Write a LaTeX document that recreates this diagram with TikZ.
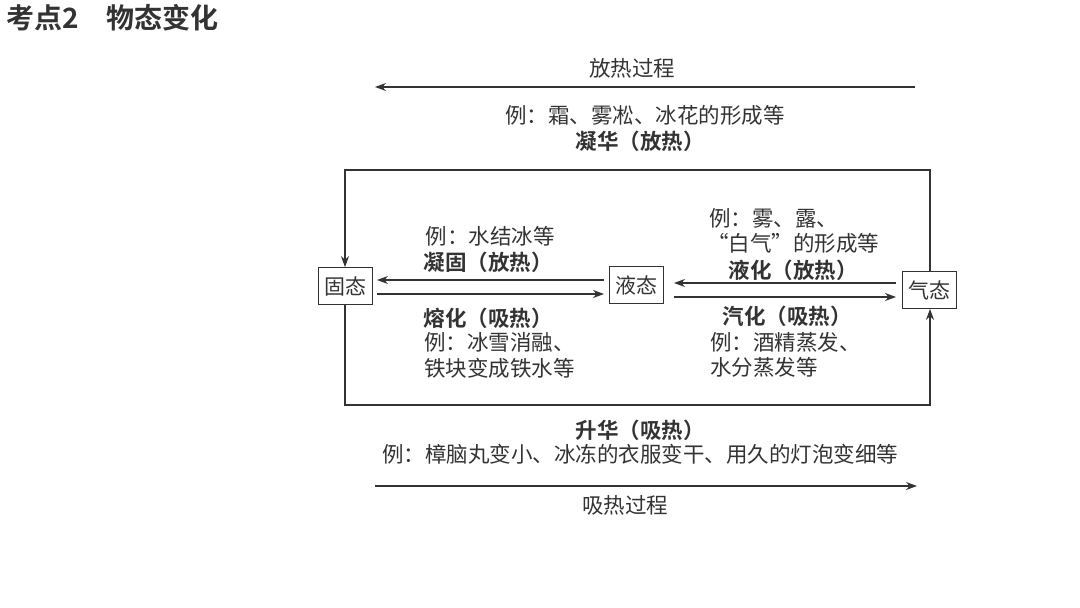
\documentclass[tikz,border=0pt]{standalone}
\usepackage{fontspec}
\newfontfamily\cjk{Noto Sans CJK SC}
\newfontfamily\cjkb{Noto Sans CJK SC Bold}
\usetikzlibrary{arrows.meta}
\definecolor{ink}{HTML}{333333}
\begin{document}
\begin{tikzpicture}[x=1pt,y=-1pt,
  txt/.style={font=\cjk\fontsize{21.5}{23}\selectfont,text=ink,inner sep=0pt},
  btxt/.style={font=\cjkb\fontsize{21.5}{23}\selectfont,text=ink,inner sep=0pt},
  state/.style={draw=ink,line width=0.8pt,font=\cjk\fontsize{21}{23}\selectfont,text=ink,minimum width=54pt,minimum height=37pt,inner sep=1pt},
  ar/.style={draw=ink,line width=1.1pt,-{Stealth[length=11pt,width=8pt]}},
  ln/.style={draw=ink,line width=1pt}]
\useasboundingbox (0,0) rectangle (1080,608);
\node[font=\cjkb\fontsize{28}{30}\selectfont,text=ink,anchor=west,inner sep=0pt] (title) at (6,18) {考点2\quad 物态变化};
% states
\node[state] (s) at (345,286) {固态};
\node[state] (l) at (636,285) {液态};
\node[state] (g) at (929,290) {气态};
% top process arrow
\coordinate (t1) at (915,87); \coordinate (t2) at (375,87);
\draw[ar] (t1) -- (t2);
\node[txt] (tl) at (632,68) {放热过程};
\node[txt] (ex1) at (645,115) {例：霜、雾凇、冰花的形成等};
\node[btxt] (nh) at (640,141) {凝华（放热）};
% outer loop top
\coordinate (a1) at (930,170); \coordinate (a2) at (345,170);
\draw[ar] (g.north -| a1) -- (a1) -- (a2) -- (s.north);
% bottom loop
\coordinate (b1) at (345,405); \coordinate (b2) at (930,405);
\draw[ar] (s.south) -- (b1) -- (b2) -- (g.south -| b2);
% inner arrows
\coordinate (p1) at (604,280); \coordinate (p2) at (377,280);
\coordinate (p3) at (377,294); \coordinate (p4) at (604,294);
\coordinate (q1) at (896,283); \coordinate (q2) at (674,283);
\coordinate (q3) at (674,297); \coordinate (q4) at (896,297);
\draw[ar] (p1) -- (p2);
\draw[ar] (p3) -- (p4);
\draw[ar] (q1) -- (q2);
\draw[ar] (q3) -- (q4);
% labels left
\node[txt] (e2) at (490,236) {例：水结冰等};
\node[btxt] (ng) at (488,262) {凝固（放热）};
\node[btxt] (rh) at (488,318) {熔化（吸热）};
\node[txt,anchor=west] (e3) at (424,342) {例：冰雪消融、};
\node[txt,anchor=west] (e4) at (424,368) {铁块变成铁水等};
% labels right
\node[txt,anchor=west] (e5) at (709,218) {例：雾、露、};
\node[txt,anchor=west] (e6) at (707,243) {“白气”的形成等};
\node[btxt] (yh) at (793,270) {液化（放热）};
\node[btxt] (qh) at (787,316) {汽化（吸热）};
\node[txt,anchor=west] (e7) at (710,342) {例：酒精蒸发、};
\node[txt,anchor=west] (e8) at (710,367) {水分蒸发等};
% bottom
\node[btxt] (sh) at (640,430) {升华（吸热）};
\node[txt] (e9) at (640,454) {例：樟脑丸变小、冰冻的衣服变干、用久的灯泡变细等};
\coordinate (c1) at (375,486); \coordinate (c2) at (917,486);
\draw[ar] (c1) -- (c2);
\node[txt] (bl) at (625,505) {吸热过程};
\end{tikzpicture}
\end{document}
